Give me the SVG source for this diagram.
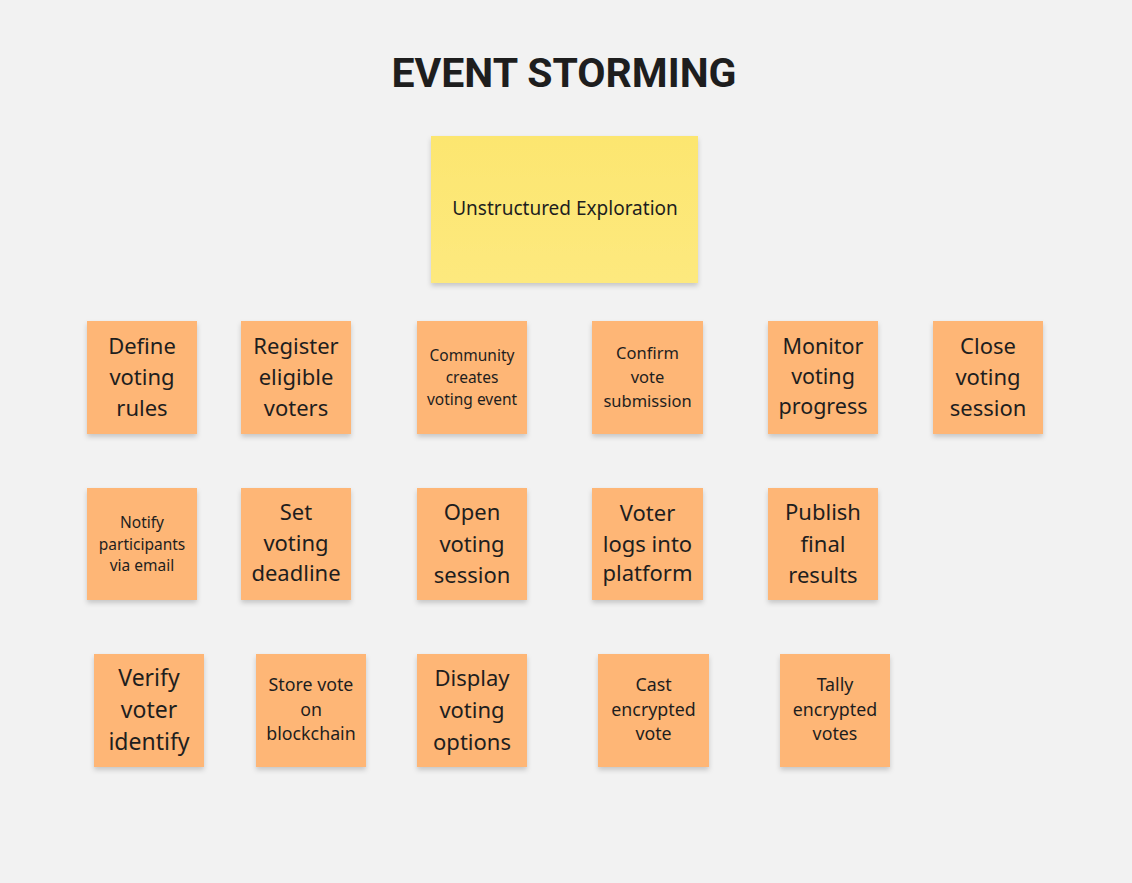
<svg xmlns="http://www.w3.org/2000/svg" width="1132" height="883" viewBox="0 0 1132 883">
<defs>
<filter id="sh" x="-10%" y="-10%" width="120%" height="125%">
<feDropShadow dx="0" dy="3" stdDeviation="2.5" flood-color="#000" flood-opacity="0.18"/>
</filter>
<linearGradient id="yg" x1="0" y1="0" x2="0" y2="1">
<stop offset="0" stop-color="#FCE670"/>
<stop offset="1" stop-color="#FDE97E"/>
</linearGradient>
</defs>
<style>
.bg{fill:#F2F2F2}
.note{fill:#FEB676;filter:url(#sh)}
.ynote{fill:url(#yg);filter:url(#sh)}
text{font-family:"Noto Sans","Open Sans","DejaVu Sans",sans-serif;fill:#1E1E1E;text-anchor:middle}
.title{font-family:Roboto,"Liberation Sans",sans-serif;font-weight:700;font-size:41px;fill:#1E1E1E}
.l{font-size:22px}
.m{font-size:17.8px}
.s{font-size:15.5px}
</style>
<rect class="bg" x="0" y="0" width="1132" height="883"/>
<text class="title" x="564" y="87">EVENT STORMING</text>
<g id="connectors"></g>
<g id="n-unstructured">
<rect class="ynote" x="431" y="136" width="267" height="147"/>
<text x="565" y="214.5" style="font-size:19px">Unstructured Exploration</text>
</g>
<g id="n-define">
<rect class="note" x="87" y="321" width="110" height="113"/>
<text class="l" x="142"><tspan x="142" y="354">Define</tspan><tspan x="142" y="385">voting</tspan><tspan x="142" y="416">rules</tspan></text>
</g>
<g id="n-register">
<rect class="note" x="241" y="321" width="110" height="113"/>
<text class="l" x="296"><tspan x="296" y="354">Register</tspan><tspan x="296" y="385">eligible</tspan><tspan x="296" y="416">voters</tspan></text>
</g>
<g id="n-community">
<rect class="note" x="417" y="321" width="110" height="113"/>
<text class="s" x="472"><tspan x="472" y="361">Community</tspan><tspan x="472" y="383">creates</tspan><tspan x="472" y="405">voting event</tspan></text>
</g>
<g id="n-confirm">
<rect class="note" x="592" y="321" width="111" height="113"/>
<text class="m" x="647.5" style="font-size:16.5px"><tspan x="647.5" y="359">Confirm</tspan><tspan x="647.5" y="383">vote</tspan><tspan x="647.5" y="407">submission</tspan></text>
</g>
<g id="n-monitor">
<rect class="note" x="768" y="321" width="110" height="113"/>
<text class="l" x="823" style="font-size:21.5px"><tspan x="823" y="354">Monitor</tspan><tspan x="823" y="384">voting</tspan><tspan x="823" y="414">progress</tspan></text>
</g>
<g id="n-close">
<rect class="note" x="933" y="321" width="110" height="113"/>
<text class="l" x="988"><tspan x="988" y="354">Close</tspan><tspan x="988" y="385">voting</tspan><tspan x="988" y="416">session</tspan></text>
</g>
<g id="n-notify">
<rect class="note" x="87" y="488" width="110" height="112"/>
<text class="s" x="142"><tspan x="142" y="528">Notify</tspan><tspan x="142" y="550">participants</tspan><tspan x="142" y="571">via email</tspan></text>
</g>
<g id="n-deadline">
<rect class="note" x="241" y="488" width="110" height="112"/>
<text class="l" x="296"><tspan x="296" y="520">Set</tspan><tspan x="296" y="551">voting</tspan><tspan x="296" y="581">deadline</tspan></text>
</g>
<g id="n-open">
<rect class="note" x="417" y="488" width="110" height="112"/>
<text class="l" x="472"><tspan x="472" y="520">Open</tspan><tspan x="472" y="552">voting</tspan><tspan x="472" y="583">session</tspan></text>
</g>
<g id="n-logs">
<rect class="note" x="592" y="488" width="111" height="112"/>
<text class="l" x="647.5"><tspan x="647.5" y="521">Voter</tspan><tspan x="647.5" y="552">logs into</tspan><tspan x="647.5" y="581">platform</tspan></text>
</g>
<g id="n-publish">
<rect class="note" x="768" y="488" width="110" height="112"/>
<text class="l" x="823"><tspan x="823" y="520">Publish</tspan><tspan x="823" y="552">final</tspan><tspan x="823" y="583">results</tspan></text>
</g>
<g id="n-verify">
<rect class="note" x="94" y="654" width="110" height="113"/>
<text class="l" x="149" style="font-size:23px"><tspan x="149" y="686">Verify</tspan><tspan x="149" y="718">voter</tspan><tspan x="149" y="750">identify</tspan></text>
</g>
<g id="n-store">
<rect class="note" x="256" y="654" width="110" height="113"/>
<text class="m" x="311"><tspan x="311" y="691">Store vote</tspan><tspan x="311" y="716">on</tspan><tspan x="311" y="740">blockchain</tspan></text>
</g>
<g id="n-display">
<rect class="note" x="417" y="654" width="110" height="113"/>
<text class="l" x="472"><tspan x="472" y="686">Display</tspan><tspan x="472" y="718">voting</tspan><tspan x="472" y="750">options</tspan></text>
</g>
<g id="n-cast">
<rect class="note" x="598" y="654" width="111" height="113"/>
<text class="m" x="653.5"><tspan x="653.5" y="691">Cast</tspan><tspan x="653.5" y="716">encrypted</tspan><tspan x="653.5" y="740">vote</tspan></text>
</g>
<g id="n-tally">
<rect class="note" x="780" y="654" width="110" height="113"/>
<text class="m" x="835"><tspan x="835" y="691">Tally</tspan><tspan x="835" y="716">encrypted</tspan><tspan x="835" y="740">votes</tspan></text>
</g>
</svg>
